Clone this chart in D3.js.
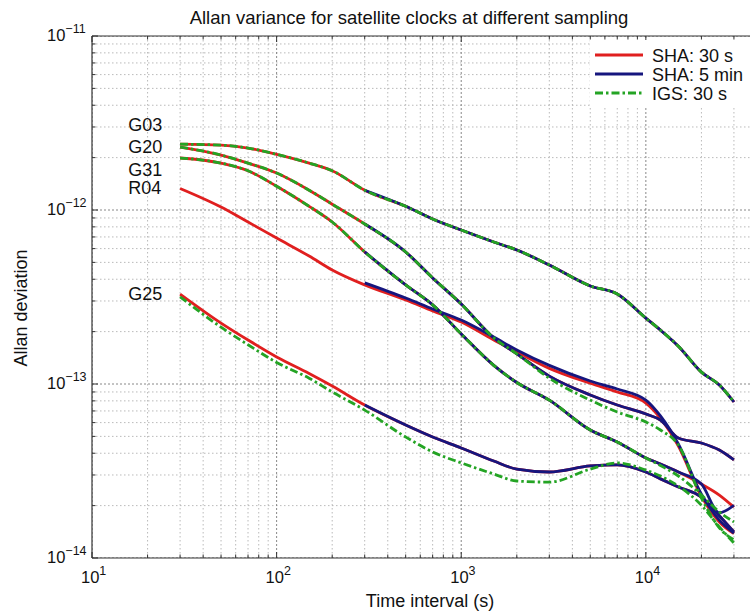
<!DOCTYPE html>
<html>
<head>
  <meta charset="UTF-8">
  <title>Allan variance</title>
  <script src="https://cdn.jsdelivr.net/npm/d3@7"></script>
  <style>
    body { margin: 0; background: #fff; }
    text { font-family: "Liberation Sans", Arial, sans-serif; fill: #111; }
  </style>
</head>
<body>
<svg id="chart" width="750" height="612"></svg>
<script>
// averaging time (s) for the 30 s series, and for the 5 min series
const tau30 = [30, 50, 70, 100, 150, 200, 300, 500, 700, 1000, 1500, 2000, 3000, 5000, 7000, 10000, 12000, 15000, 20000, 25000, 30000];
const tau5min = [300, 500, 700, 1000, 1500, 2000, 3000, 5000, 7000, 10000, 12000, 15000, 20000, 25000, 30000];

// Allan deviation
const g03Sha30 = [2.39e-12, 2.36e-12, 2.27e-12, 2.09e-12, 1.86e-12, 1.68e-12, 1.30e-12, 1.05e-12, 8.88e-13, 7.67e-13, 6.55e-13, 5.89e-13, 4.83e-13, 3.66e-13, 3.29e-13, 2.39e-13, 2.04e-13, 1.65e-13, 1.17e-13, 9.87e-14, 7.88e-14];
const g03Sha5 = [1.30e-12, 1.05e-12, 8.88e-13, 7.67e-13, 6.55e-13, 5.89e-13, 4.83e-13, 3.66e-13, 3.29e-13, 2.39e-13, 2.04e-13, 1.65e-13, 1.17e-13, 9.87e-14, 7.88e-14];
const g03Igs = [2.39e-12, 2.36e-12, 2.27e-12, 2.09e-12, 1.86e-12, 1.68e-12, 1.30e-12, 1.05e-12, 8.88e-13, 7.67e-13, 6.55e-13, 5.89e-13, 4.83e-13, 3.66e-13, 3.29e-13, 2.39e-13, 2.04e-13, 1.65e-13, 1.17e-13, 9.87e-14, 7.88e-14];

const g20Sha30 = [2.30e-12, 2.07e-12, 1.86e-12, 1.63e-12, 1.30e-12, 1.08e-12, 8.31e-13, 5.74e-13, 4.07e-13, 2.88e-13, 1.84e-13, 1.49e-13, 1.11e-13, 8.65e-14, 7.57e-14, 6.72e-14, 6.21e-14, 4.90e-14, 4.58e-14, 4.17e-14, 3.66e-14];
const g20Sha5 = [8.31e-13, 5.74e-13, 4.07e-13, 2.88e-13, 1.84e-13, 1.49e-13, 1.11e-13, 8.65e-14, 7.57e-14, 6.72e-14, 6.21e-14, 4.90e-14, 4.58e-14, 4.17e-14, 3.66e-14];
const g20Igs = [2.30e-12, 2.07e-12, 1.86e-12, 1.63e-12, 1.30e-12, 1.08e-12, 8.31e-13, 5.74e-13, 4.07e-13, 2.88e-13, 1.84e-13, 1.49e-13, 1.08e-13, 8.08e-14, 6.90e-14, 6.05e-14, 5.44e-14, 4.46e-14, 2.21e-14, 1.49e-14, 1.27e-14];

const g31Sha30 = [1.99e-12, 1.86e-12, 1.68e-12, 1.37e-12, 1.05e-12, 8.53e-13, 5.74e-13, 3.71e-13, 2.85e-13, 1.94e-13, 1.28e-13, 1.02e-13, 8.08e-14, 5.44e-14, 4.64e-14, 3.76e-14, 3.47e-14, 3.12e-14, 2.66e-14, 2.30e-14, 1.96e-14];
const g31Sha5 = [5.74e-13, 3.71e-13, 2.85e-13, 1.94e-13, 1.28e-13, 1.02e-13, 8.08e-14, 5.44e-14, 4.64e-14, 3.76e-14, 3.47e-14, 3.12e-14, 2.66e-14, 1.82e-14, 2.01e-14];
const g31Igs = [1.99e-12, 1.86e-12, 1.68e-12, 1.37e-12, 1.05e-12, 8.53e-13, 5.74e-13, 3.71e-13, 2.85e-13, 1.94e-13, 1.28e-13, 1.02e-13, 8.08e-14, 5.44e-14, 4.64e-14, 3.76e-14, 3.40e-14, 2.96e-14, 2.30e-14, 1.84e-14, 1.61e-14];

const r04Sha30 = [1.33e-12, 1.04e-12, 8.53e-13, 6.90e-13, 5.44e-13, 4.52e-13, 3.71e-13, 3.04e-13, 2.63e-13, 2.27e-13, 1.79e-13, 1.53e-13, 1.23e-13, 1.01e-13, 9.00e-14, 7.77e-14, 6.35e-14, 4.40e-14, 2.26e-14, 1.61e-14, 1.38e-14];
const r04Sha5 = [3.81e-13, 3.12e-13, 2.70e-13, 2.33e-13, 1.86e-13, 1.57e-13, 1.28e-13, 1.04e-13, 9.36e-14, 8.08e-14, 6.55e-14, 4.52e-14, 2.33e-14, 1.65e-14, 1.39e-14];

const g25Sha30 = [3.29e-13, 2.24e-13, 1.79e-13, 1.43e-13, 1.15e-13, 9.74e-14, 7.57e-14, 5.81e-14, 4.96e-14, 4.29e-14, 3.61e-14, 3.24e-14, 3.12e-14, 3.38e-14, 3.43e-14, 3.12e-14, 2.85e-14, 2.56e-14, 2.24e-14, 1.75e-14, 1.41e-14];
const g25Sha5 = [7.57e-14, 5.81e-14, 4.96e-14, 4.29e-14, 3.61e-14, 3.24e-14, 3.12e-14, 3.38e-14, 3.43e-14, 3.12e-14, 2.85e-14, 2.56e-14, 2.24e-14, 1.75e-14, 1.41e-14];
const g25Igs = [3.17e-13, 2.12e-13, 1.68e-13, 1.33e-13, 1.08e-13, 9.00e-14, 7.08e-14, 4.96e-14, 4.07e-14, 3.52e-14, 3.04e-14, 2.77e-14, 2.73e-14, 3.24e-14, 3.52e-14, 3.20e-14, 2.96e-14, 2.59e-14, 2.01e-14, 1.51e-14, 1.22e-14];

// satellite name labels at the left, anchored at a (tau, value) point
const satNames = ['G03', 'G20', 'G31', 'R04', 'G25'];
const satLabelTau = 15.7;
const satLabelValue = [2.85e-12, 2.13e-12, 1.57e-12, 1.23e-12, 3.04e-13];

const legendNames = ['SHA: 30 s', 'SHA: 5 min', 'IGS: 30 s'];

const xTicks = [1e1, 1e2, 1e3, 1e4];
const xExp = ['1', '2', '3', '4'];
const yTicks = [1e-11, 1e-12, 1e-13, 1e-14];
const yExp = ['\u221211', '\u221212', '\u221213', '\u221214'];

const RED = '#e01f1f', BLUE = '#16167e', GREEN = '#24a424';

const svg = d3.select('#chart');
const pL = 92, pR = 757, pT = 36, pB = 558;

const x = d3.scaleLog().domain([10, 4e4]).range([pL, pR]);
const y = d3.scaleLog().domain([1e-14, 1e-11]).range([pB, pT]);

svg.append('defs').append('clipPath').attr('id', 'plotClip')
  .append('rect').attr('x', pL).attr('y', pT).attr('width', pR - pL).attr('height', pB - pT);

const plot = svg.append('g').attr('clip-path', 'url(#plotClip)');
plot.append('rect').attr('x', pL).attr('y', pT).attr('width', pR - pL).attr('height', pB - pT).attr('fill', '#fff');

// minor / major grid
let xMinor = [], yMinor = [];
[1e1, 1e2, 1e3, 1e4].forEach(d => { for (let k = 2; k <= 9; k++) xMinor.push(k * d); });
[1e-14, 1e-13, 1e-12].forEach(d => { for (let k = 2; k <= 9; k++) yMinor.push(k * d); });

const grid = plot.append('g');
grid.selectAll('.vx').data(xMinor).enter().append('line')
  .attr('x1', d => x(d)).attr('x2', d => x(d)).attr('y1', pT).attr('y2', pB)
  .attr('stroke', '#a8a8a8').attr('stroke-width', 0.8).attr('stroke-dasharray', '1.5,2.5');
grid.selectAll('.hy').data(yMinor).enter().append('line')
  .attr('y1', d => y(d)).attr('y2', d => y(d)).attr('x1', pL).attr('x2', pR)
  .attr('stroke', '#a8a8a8').attr('stroke-width', 0.8).attr('stroke-dasharray', '1.5,2.5');
grid.selectAll('.vmaj').data(xTicks).enter().append('line')
  .attr('x1', d => x(d)).attr('x2', d => x(d)).attr('y1', pT).attr('y2', pB)
  .attr('stroke', '#7a7a7a').attr('stroke-width', 0.9).attr('stroke-dasharray', '2,2');
grid.selectAll('.hmaj').data(yTicks).enter().append('line')
  .attr('y1', d => y(d)).attr('y2', d => y(d)).attr('x1', pL).attr('x2', pR)
  .attr('stroke', '#7a7a7a').attr('stroke-width', 0.9).attr('stroke-dasharray', '2,2');

// curves: red first, blue over it, green dash-dot on top
const line = d3.line().x(d => x(d[0])).y(d => y(d[1])).curve(d3.curveMonotoneX);
const zip = (t, v) => v.map((d, i) => [t[i], d]);

const sha30 = [g03Sha30, g20Sha30, g31Sha30, r04Sha30, g25Sha30];
const sha5 = [g03Sha5, g20Sha5, g31Sha5, r04Sha5, g25Sha5];
const igs = [g03Igs, g20Igs, g31Igs, g25Igs];

function drawSet(list, tau, color, dash)
{
  plot.append('g').selectAll('path').data(list).enter().append('path')
    .attr('d', v => line(zip(tau, v)))
    .attr('fill', 'none').attr('stroke', color).attr('stroke-width', 2.8)
    .attr('stroke-linejoin', 'round')
    .attr('stroke-dasharray', dash);
}
drawSet(sha30, tau30, RED, null);
drawSet(sha5, tau5min, BLUE, null);
drawSet(igs, tau30, GREEN, '8,3,2.5,3');

// axes box with inward ticks
const axes = svg.append('g');
axes.append('line').attr('x1', pL).attr('x2', pL).attr('y1', pT).attr('y2', pB).attr('stroke', '#333').attr('stroke-width', 1.2);
axes.append('line').attr('x1', pL).attr('x2', pR).attr('y1', pB).attr('y2', pB).attr('stroke', '#333').attr('stroke-width', 1.2);
axes.append('line').attr('x1', pL).attr('x2', pR).attr('y1', pT).attr('y2', pT).attr('stroke', '#333').attr('stroke-width', 1.2);

function xTickMarks(vals, len)
{
  vals.filter(d => x(d) < 750).forEach(d =>
  {
    axes.append('line').attr('x1', x(d)).attr('x2', x(d)).attr('y1', pB).attr('y2', pB - len).attr('stroke', '#333');
    axes.append('line').attr('x1', x(d)).attr('x2', x(d)).attr('y1', pT).attr('y2', pT + len).attr('stroke', '#333');
  });
}
function yTickMarks(vals, len)
{
  vals.forEach(d =>
  {
    axes.append('line').attr('x1', pL).attr('x2', pL + len).attr('y1', y(d)).attr('y2', y(d)).attr('stroke', '#333');
  });
}
xTickMarks(xTicks, 6);
xTickMarks(xMinor, 3.5);
yTickMarks(yTicks, 6);
yTickMarks(yMinor, 3.5);

// tick labels as 10^n
xTicks.forEach((d, i) =>
{
  const t = axes.append('text').attr('x', x(d) - 11).attr('y', 583).attr('font-size', 16.5);
  t.append('tspan').text('10');
  t.append('tspan').attr('dy', -8).attr('font-size', 12.5).text(xExp[i]);
});
yTicks.forEach((d, i) =>
{
  const t = axes.append('text').attr('x', 47).attr('y', y(d) + 5).attr('font-size', 16.5);
  t.append('tspan').text('10');
  t.append('tspan').attr('dy', -8).attr('font-size', 12.5).text(yExp[i]);
});

// titles
svg.append('text').attr('x', 409).attr('y', 24).attr('text-anchor', 'middle').attr('font-size', 18.5)
  .text('Allan variance for satellite clocks at different sampling');
svg.append('text').attr('x', 430).attr('y', 607).attr('text-anchor', 'middle').attr('font-size', 18)
  .text('Time interval (s)');
svg.append('text').attr('transform', 'translate(27,308) rotate(-90)').attr('text-anchor', 'middle').attr('font-size', 18)
  .text('Allan deviation');

// satellite labels
svg.append('g').selectAll('text').data(satNames).enter().append('text')
  .attr('x', x(satLabelTau)).attr('y', (d, i) => y(satLabelValue[i]))
  .attr('font-size', 18).text(d => d);

// legend
const legend = svg.append('g');
legend.append('rect').attr('x', 590).attr('y', 40).attr('width', 165).attr('height', 68).attr('fill', '#fff');
const legColors = [RED, BLUE, GREEN];
const legDash = [null, null, '8,3,2.5,3'];
legendNames.forEach((name, i) =>
{
  const yy = 55 + i * 19;
  legend.append('line').attr('x1', 595).attr('x2', 643).attr('y1', yy).attr('y2', yy)
    .attr('stroke', legColors[i]).attr('stroke-width', 2.8).attr('stroke-dasharray', legDash[i]);
  legend.append('text').attr('x', 652).attr('y', yy + 7).attr('font-size', 18).text(name);
});
</script>
</body>
</html>
